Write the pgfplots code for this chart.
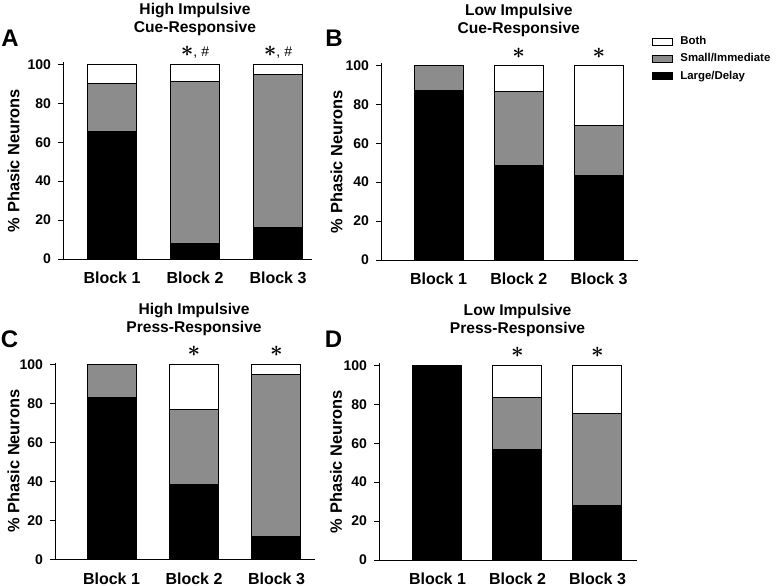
\documentclass[border=0pt]{standalone}
\usepackage{pgfplots}
\pgfplotsset{compat=1.18}
\usepackage{fontspec}
\setmainfont{Liberation Sans}

\definecolor{midgray}{RGB}{140,140,140}

\pgfplotsset{
  panel/.style={
    ybar stacked,
    scale only axis,
    anchor=south west,
    height=98.5pt,
    ymin=0, ymax=101.2,
    bar width=24.5pt,
    axis x line=bottom,
    axis y line=left,
    axis line style={-, line width=0.5pt, black},
    x axis line style={shorten <=-2.5pt},
    xtick={1,2,3},
    xticklabels={Block 1,Block 2,Block 3},
    xtick style={draw=none},
    xticklabel style={anchor=center, inner sep=0pt, yshift=-7.1pt, font=\bfseries\fontsize{8}{8}\selectfont},
    ytick={0,20,40,60,80,100},
    tick align=outside,
    major tick length=2.5pt,
    ytick style={line width=0.5pt, black},
    yticklabel style={font=\bfseries\fontsize{7}{7}\selectfont},
    /pgf/number format/assume math mode=true,
    ylabel={\% Phasic Neurons},
    ylabel style={font=\bfseries\fontsize{8.2}{8.2}\selectfont},
    clip=false,
    legend image code/.code={\draw[#1, line width=0.5pt] (0pt,-1.75pt) rectangle (10pt,1.75pt);},
  },
  blk/.style={fill=black, draw=black, line width=0.5pt},
  gry/.style={fill=midgray, draw=black, line width=0.5pt},
  wht/.style={fill=white, draw=black, line width=0.5pt},
}

\newcommand{\ttl}{\bfseries\fontsize{7.8}{9}\selectfont}
\DeclareRobustCommand{\sig}{{\fontsize{11}{11}\selectfont\boldmath$\ast$}}
\DeclareRobustCommand{\sighash}{{\fontsize{11}{11}\selectfont\boldmath$\ast$\fontsize{7}{7}\selectfont, \#}}

\begin{document}
\begin{tikzpicture}
\useasboundingbox (0,0) rectangle (388.5pt,292.5pt);

% A: high impulsive, cue-responsive
\begin{axis}[panel, at={(31.5pt,163pt)}, width=124.5pt, xmin=0.41, xmax=3.41,
  ylabel style={at={(axis description cs:0,0.5)}, anchor=center, yshift=24.75pt}]
\addplot[blk] coordinates {(1,65.5) (2,8.2) (3,16.1)};
\addplot[gry] coordinates {(1,24.7) (2,83.0) (3,78.7)};
\addplot[wht] coordinates {(1,9.8) (2,8.8) (3,5.2)};
\node[font=\ttl, align=center, inner sep=0pt] at (axis cs:2,123.3) {High Impulsive\\Cue-Responsive};
\node[inner sep=0pt] at (axis cs:2,106.2) {\sighash};
\node[inner sep=0pt] at (axis cs:3,106.2) {\sighash};
\end{axis}

% B: low impulsive, cue-responsive
\begin{axis}[panel, at={(190.5pt,162.5pt)}, width=128.5pt, xmin=0.283, xmax=3.486,
  ylabel style={at={(axis description cs:0,0.5)}, anchor=center, yshift=22.25pt},
  reverse legend,
  legend cell align=left,
  legend style={at={(axis description cs:1.0545,1.143)}, anchor=north west,
    draw=none, fill=none, inner sep=0pt, row sep=2.25pt, /tikz/column sep=3pt,
    font=\bfseries\fontsize{5.7}{6}\selectfont,
    nodes={inner sep=0.5pt, text height=4.2pt, text depth=1.2pt}}]
\addplot[blk] coordinates {(1,87.1) (2,48.5) (3,43.3)};
\addlegendentry{Large/Delay}
\addplot[gry] coordinates {(1,12.9) (2,38.3) (3,25.8)};
\addlegendentry{Small/Immediate}
\addplot[wht] coordinates {(1,0) (2,13.2) (3,30.9)};
\addlegendentry{Both}
\node[font=\ttl, align=center, inner sep=0pt] at (axis cs:2,123.3) {Low Impulsive\\Cue-Responsive};
\node[inner sep=0pt] at (axis cs:2,106.2) {\sig};
\node[inner sep=0pt] at (axis cs:3,106.2) {\sig};
\end{axis}

% C: high impulsive, press-responsive
\begin{axis}[panel, at={(27.5pt,12.75pt)}, width=130pt, xmin=0.315, xmax=3.467,
  ylabel style={at={(axis description cs:0,0.5)}, anchor=center, yshift=20.75pt}]
\addplot[blk] coordinates {(1,83.0) (2,38.5) (3,11.6)};
\addplot[gry] coordinates {(1,17.0) (2,38.8) (3,83.3)};
\addplot[wht] coordinates {(1,0) (2,22.7) (3,5.1)};
\node[font=\ttl, align=center, inner sep=0pt] at (axis cs:2,123.2) {High Impulsive\\Press-Responsive};
\node[inner sep=0pt] at (axis cs:2,106.8) {\sig};
\node[inner sep=0pt] at (axis cs:3,106.8) {\sig};
\end{axis}

% D: low impulsive, press-responsive
\begin{axis}[panel, at={(189.5pt,12.5pt)}, width=129pt, xmin=0.269, xmax=3.494,
  ylabel style={at={(axis description cs:0,0.5)}, anchor=center, yshift=21.5pt}]
\addplot[blk] coordinates {(1,100) (2,56.8) (3,28.2)};
\addplot[gry] coordinates {(1,0) (2,26.8) (3,47.2)};
\addplot[wht] coordinates {(1,0) (2,16.4) (3,24.6)};
\node[font=\ttl, align=center, inner sep=0pt] at (axis cs:2,123.2) {Low Impulsive\\Press-Responsive};
\node[inner sep=0pt] at (axis cs:2,106.8) {\sig};
\node[inner sep=0pt] at (axis cs:3,106.8) {\sig};
\end{axis}

% panel letters
\node[font=\bfseries\fontsize{12}{12}\selectfont] at (5pt,273.5pt) {A};
\node[font=\bfseries\fontsize{12}{12}\selectfont] at (167pt,273.5pt) {B};
\node[font=\bfseries\fontsize{12}{12}\selectfont] at (4.75pt,123pt) {C};
\node[font=\bfseries\fontsize{12}{12}\selectfont] at (166.75pt,123pt) {D};
\end{tikzpicture}
\end{document}
